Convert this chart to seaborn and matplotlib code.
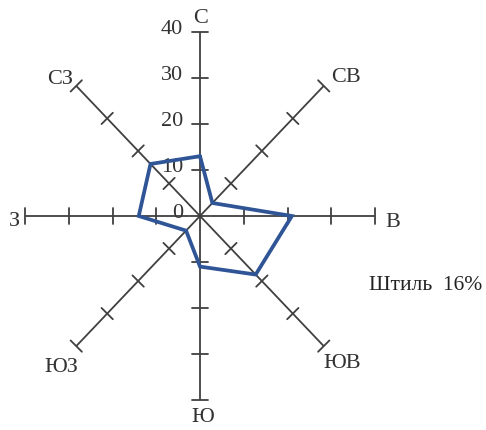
import numpy as np
import pandas as pd
import matplotlib
matplotlib.use("Agg")
import matplotlib.pyplot as plt
import seaborn as sns

# Data
directions = ["С", "СВ", "В", "ЮВ", "Ю", "ЮЗ", "З", "СЗ"]
angles_deg = [90, 45, 0, -45, -90, -135, 180, 135]
values = [13, 4, 21, 18, 11, 4.5, 14, 16]
tick_values = [0, 10, 20, 30, 40]
calm_label = "Штиль  16%"

sns.set_theme(style="white")
plt.rcParams["font.family"] = ["Liberation Serif", "DejaVu Serif"]

W, H = 486, 430
fig = plt.figure(figsize=(W / 100, H / 100), dpi=100)
ax = fig.add_axes([0, 0, 1, 1])
ax.set_axis_off()

# pixel scale per unit
sx, sy = 4.375, 4.6
cx, cy = 200, 216  # center in pixels from top-left
ax.set_xlim(-cx / sx, (W - cx) / sx)
ax.set_ylim(-(H - cy) / sy, cy / sy)

axis_col = "#404040"
rmax = tick_values[-1]
half = 8  # tick half length in px

for a in angles_deg:
    t = np.deg2rad(a)
    ux, uy = np.cos(t), np.sin(t)
    ax.plot([0, rmax * ux], [0, rmax * uy], color=axis_col, lw=1.3, solid_capstyle="butt", zorder=1)
    # perpendicular in pixel space
    px, py = -uy, ux
    for r in tick_values[1:]:
        x0, y0 = r * ux, r * uy
        ax.plot([x0 - half * px / sx, x0 + half * px / sx],
                [y0 - half * py / sy, y0 + half * py / sy],
                color=axis_col, lw=1.3, zorder=1)

# tick labels on the north axis
for r in tick_values:
    ax.text(-3.9, r + 0.6, str(r), ha="right", va="center", fontsize=16, color="#333333")

# direction labels (pixel positions)
label_px = {
    "С": (201, 19), "СВ": (346, 78), "В": (393, 223), "ЮВ": (342, 364),
    "Ю": (203, 418), "ЮЗ": (61, 368), "З": (14, 222), "СЗ": (60, 80),
}
for d in directions:
    px_, py_ = label_px[d]
    ax.text((px_ - cx) / sx, (cy - py_) / sy, d, ha="center", va="center",
            fontsize=16, color="#333333")

# wind rose polygon
rad = np.deg2rad(angles_deg + [angles_deg[0]])
vals = values + [values[0]]
df = pd.DataFrame({"x": np.array(vals) * np.cos(rad),
                   "y": np.array(vals) * np.sin(rad),
                   "o": range(len(vals))})
sns.lineplot(data=df, x="x", y="y", sort=False, estimator=None, ax=ax,
             color="#2F5597", lw=2.7, zorder=3)
ax.lines[-1].set_solid_joinstyle("miter")

ax.text((426 - cx) / sx, (cy - 285) / sy, calm_label, ha="center", va="center",
        fontsize=15.5, color="#222222")

fig.savefig("out.png", dpi=100)
